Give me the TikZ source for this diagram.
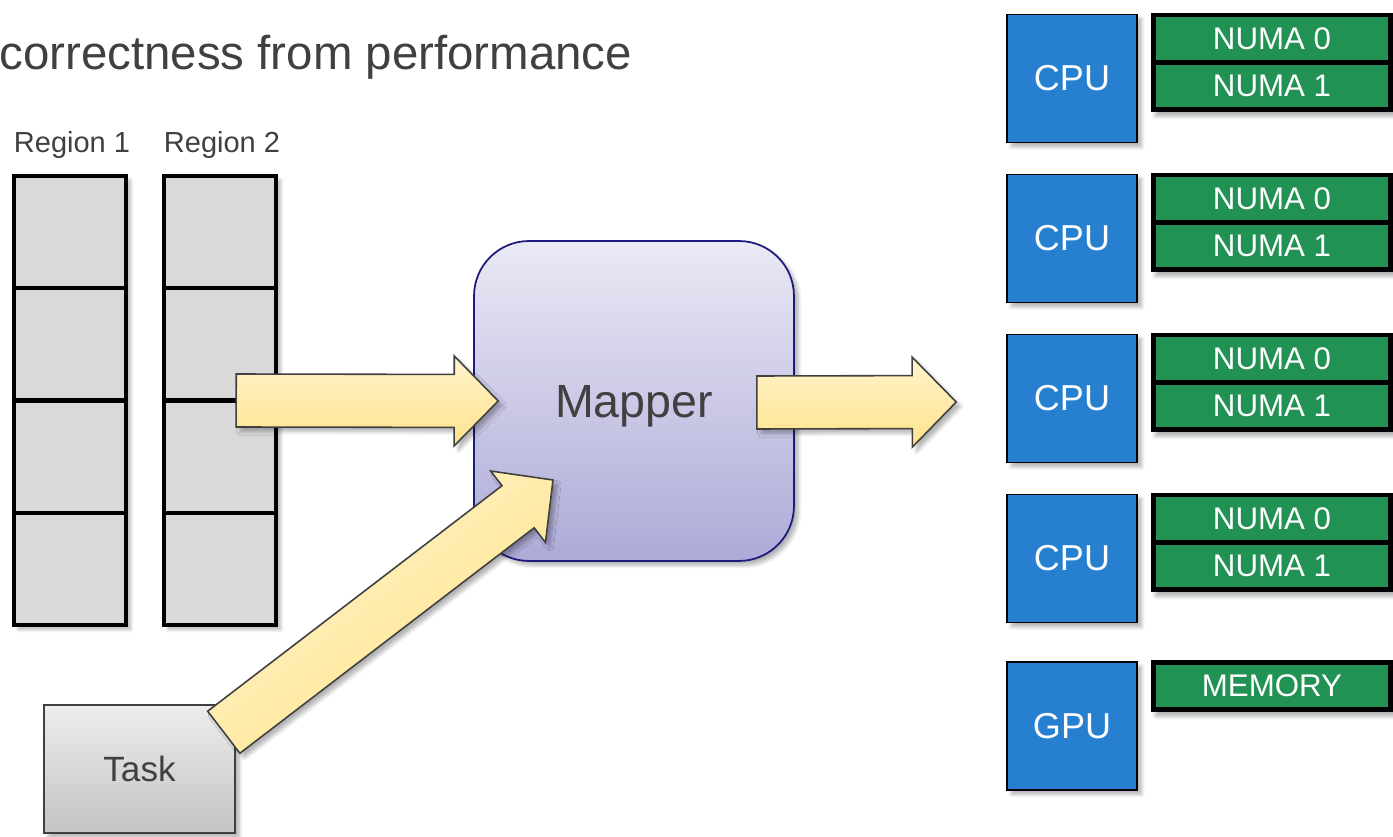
\documentclass[tikz,border=0pt]{standalone}
\usepackage{fontspec}
\setmainfont{Liberation Sans}
\usetikzlibrary{calc,shadows,shadows.blur}

\definecolor{txt}{HTML}{404040}
\definecolor{cpublue}{HTML}{2680CF}
\definecolor{memgreen}{HTML}{229254}
\definecolor{cellgray}{HTML}{D9D9D9}
\definecolor{mapedge}{HTML}{1E1B7E}
\definecolor{maptop}{HTML}{EAE9F5}
\definecolor{mapbot}{HTML}{ADAAD7}
\definecolor{arrtop}{HTML}{FFF4CC}
\definecolor{arrbot}{HTML}{FFE28A}
\definecolor{tasktop}{HTML}{EDEDED}
\definecolor{taskbot}{HTML}{C3C3C3}

\tikzset{
  softshadow/.style={blur shadow={shadow xshift=2.5pt, shadow yshift=-2.5pt,
      shadow blur steps=6, shadow opacity=30}},
  column/.style={draw=black, line width=2.5pt, fill=cellgray, softshadow,
      minimum width=2.24cm, minimum height=8.98cm, inner sep=0pt},
  cellbox/.style={draw=black, line width=2.5pt, fill=cellgray,
      minimum width=2.24cm, minimum height=2.245cm, inner sep=0pt},
  regionlabel/.style={text=txt, font=\fontsize{16.5}{19}\selectfont,
      inner sep=0pt, anchor=base},
  cpubox/.style={draw=black, line width=0.9pt, fill=cpublue, softshadow,
      minimum width=2.6cm, minimum height=2.56cm, inner sep=0pt, text=white,
      font=\fontsize{20.5}{24}\selectfont},
  memframe/.style={fill=black, softshadow, minimum width=4.84cm,
      inner sep=0pt},
  memcell/.style={fill=memgreen, minimum width=4.64cm, minimum height=0.85cm,
      inner sep=0pt, text=white, text depth=0pt,
      font=\fontsize{17.8}{20}\selectfont},
  fatarrow/.style={draw=txt, line width=0.9pt, line join=miter,
      top color=arrtop, bottom color=arrbot, softshadow},
}

% Block arrow from #2 (tail) to #3 (tip)
\newcommand\fatarrow[3][]{%
  \coordinate (fa-h) at ($(#3)!0.88cm!(#2)$);
  \path[fatarrow,#1]
    ($(#2)!0.53cm!90:(#3)$) -- ($(fa-h)!0.53cm!90:(#3)$) --
    ($(fa-h)!0.9cm!90:(#3)$) -- (#3) --
    ($(fa-h)!0.9cm!-90:(#3)$) -- ($(fa-h)!0.53cm!-90:(#3)$) --
    ($(#2)!0.53cm!-90:(#3)$) -- cycle;
}

\begin{document}
\begin{tikzpicture}[x=0.02cm, y=-0.02cm]
\useasboundingbox (0,0) rectangle (1393,837);

% heading
\node[anchor=base west, inner sep=0pt, text=txt,
      font=\fontsize{27}{32}\selectfont] (title) at (-1,70)
      {correctness from performance};

% logical regions
\foreach \r/\x in {1/70,2/220} {
  \node[column] (reg\r) at (\x,400.5) {};
  \foreach \c/\y in {a/232.1,b/344.4,c/456.6,d/568.9}
    \node[cellbox] (reg\r\c) at (\x,\y) {};
  \node[regionlabel] (lab\r) at (\x+2,153) {Region \r};
}

% task
\node[draw=txt, line width=0.9pt, top color=tasktop, bottom color=taskbot,
      softshadow, minimum width=3.82cm, minimum height=2.56cm, inner sep=0pt,
      text=txt, font=\fontsize{20}{24}\selectfont] (task) at (139.5,769) {Task};

% mapper
\node[draw=mapedge, line width=1pt, rounded corners=1.1cm,
      top color=maptop, bottom color=mapbot, softshadow,
      minimum width=6.4cm, minimum height=6.4cm, inner sep=0pt,
      text=txt, text depth=0pt, font=\fontsize{26.5}{30}\selectfont]
      (mapper) at (634,401) {Mapper};

% machine
\foreach \k/\y in {1/78.5,2/238.5,3/398.5,4/558.5} {
  \node[cpubox] (cpu\k) at (1072,\y) {CPU};
  \node[memframe, minimum height=1.98cm] (numa\k) at (1272,\y-16) {};
  \node[memcell] (numa\k x) at (1272,\y-40) {NUMA 0};
  \node[memcell] (numa\k y) at (1272,\y+7.5) {NUMA 1};
}
\node[cpubox] (gpu) at (1072,726) {GPU};
\node[memframe, minimum height=1.04cm] (gmem) at (1272,686) {};
\node[memcell] (gmemx) at (1272,686) {MEMORY};

% flows into and out of the mapper
\coordinate (a1s) at ($(reg2.east)+(-42,0)$);
\coordinate (a1t) at ($(mapper.west)+(25,0)$);
\coordinate (a2s) at ($(mapper.east)+(-38,1.5)$);
\coordinate (a2t) at ($(cpu3.west)+(-50,3.5)$);
\coordinate (a3s) at ($(task.north east)+(-12,28)$);
\coordinate (a3t) at ($(mapper.center)+(-81,79)$);

\fatarrow{a1s}{a1t}
\fatarrow{a2s}{a2t}
\fatarrow[shading angle=37.5]{a3s}{a3t}
\end{tikzpicture}
\end{document}
